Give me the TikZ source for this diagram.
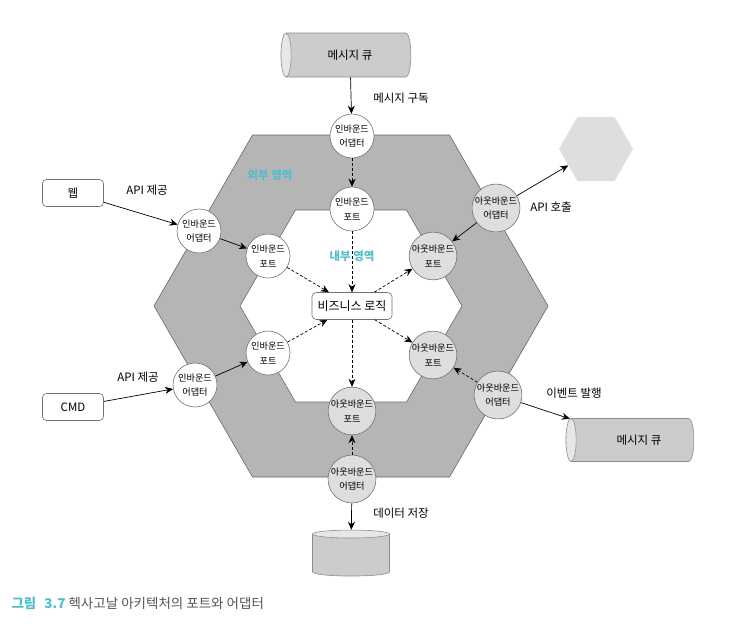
\documentclass[tikz,border=0pt]{standalone}
\usepackage{fontspec}
\setmainfont{Noto Sans CJK KR}
\usetikzlibrary{arrows.meta,shapes.geometric}
\definecolor{hexgray}{RGB}{180,181,180}
\definecolor{portgray}{RGB}{221,222,221}
\definecolor{cylgray}{RGB}{204,204,204}
\definecolor{cylend}{RGB}{231,231,231}
\definecolor{areateal}{RGB}{82,190,204}
\definecolor{captext}{RGB}{85,85,85}

\begin{document}
\begin{tikzpicture}[x=1pt,y=-1pt,every node/.style={font=\fontsize{11.5}{13}\selectfont},
    inport/.style={circle,draw=black!55,line width=0.6pt,fill=white,minimum size=44pt,inner sep=0pt,
                   align=center,font=\fontsize{9.2}{14.5}\selectfont},
    outport/.style={inport,fill=portgray},
    srcbox/.style={draw=black!55,line width=0.6pt,rounded corners=4pt,fill=white,minimum width=61pt,
                   minimum height=27pt},
    queue/.style={cylinder,draw=black!45,line width=0.6pt,cylinder uses custom fill,
                  cylinder body fill=cylgray,cylinder end fill=cylend,aspect=0.6},
    flow/.style={-{Stealth[length=8pt,width=7pt]},line width=0.7pt},
    dflow/.style={flow,dash pattern=on 3pt off 2pt}]
  \useasboundingbox (0,0) rectangle (742,635);

  % hexagons
  \draw[black!60,line width=0.6pt,fill=hexgray] (154,306) -- (252.5,135) -- (449.5,135) -- (548,306)
       -- (449.5,477) -- (252.5,477) -- cycle;
  \draw[black!60,line width=0.6pt,fill=white] (240,306) -- (295.5,210) -- (406.5,210) -- (462,306)
       -- (406.5,402) -- (295.5,402) -- cycle;
  \node[font=\bfseries\fontsize{11.5}{13}\selectfont,text=areateal] at (270,175) {외부 영역};
  \node[font=\bfseries\fontsize{11.5}{13}\selectfont,text=areateal] at (352,256) {내부 영역};

  % core
  \node[srcbox,minimum width=80pt,font=\fontsize{12}{13}\selectfont] (logic) at (352,306) {비즈니스 로직};

  % inbound side
  \node[queue,shape border rotate=180,minimum width=44pt,minimum height=130pt] (queueTop) at (350,55) {메시지 큐};
  \node[inport] (inAdTop)   at (352,136) {인바운드\\어댑터};
  \node[inport] (inPortTop) at (352,209) {인바운드\\포트};
  \node[srcbox] (web) at (73,193) {웹};
  \node[inport] (inAdWeb)   at (199,231) {인바운드\\어댑터};
  \node[inport] (inPortWeb) at (268,256) {인바운드\\포트};
  \node[srcbox] (cmd) at (73,407) {CMD};
  \node[inport] (inAdCmd)   at (195,385) {인바운드\\어댑터};
  \node[inport] (inPortCmd) at (268,353) {인바운드\\포트};

  % outbound side
  \node[outport] (outAdApi)   at (496,208) {아웃바운드\\어댑터};
  \node[outport] (outPortApi) at (433,256) {아웃바운드\\포트};
  \node[regular polygon,regular polygon sides=6,minimum size=74pt,inner sep=0pt,
        fill=portgray] (extApi) at (596,149) {};
  \node[outport] (outAdEvt)   at (498,395) {아웃바운드\\어댑터};
  \node[outport] (outPortEvt) at (433,355) {아웃바운드\\포트};
  \node[queue,shape border rotate=180,minimum width=43pt,minimum height=128pt] (queueEvt) at (634,440) {\hspace*{10pt}메시지 큐};
  \node[outport] (outPortDb) at (352,411) {아웃바운드\\포트};
  \node[outport] (outAdDb)   at (352,479) {아웃바운드\\어댑터};
  \node[queue,shape border rotate=90,minimum width=77pt,minimum height=46pt,aspect=1.2] (db) at (351,556) {};

  % connectors
  \draw[flow] (queueTop) -- (inAdTop);
  \draw[dflow] (inAdTop) -- (inPortTop);
  \draw[dflow] (inPortTop) -- (logic);
  \draw[flow] (web) -- (inAdWeb);
  \draw[flow] (inAdWeb) -- (inPortWeb);
  \draw[dflow] (inPortWeb) -- (logic);
  \draw[flow] (cmd) -- (inAdCmd);
  \draw[flow] (inAdCmd) -- (inPortCmd);
  \draw[dflow] (inPortCmd) -- (logic);
  \draw[dflow] (logic) -- (outPortApi);
  \draw[flow] (outAdApi) -- (outPortApi);
  \draw[flow] (outAdApi) -- (extApi);
  \draw[dflow] (logic) -- (outPortEvt);
  \draw[dflow] (outAdEvt) -- (outPortEvt);
  \draw[flow] (outAdEvt) -- (queueEvt);
  \draw[dflow] (logic) -- (outPortDb);
  \draw[dflow] (outAdDb) -- (outPortDb);
  \draw[flow] (outAdDb) -- (db);

  % labels
  \node (lblSub) at (401,98) {메시지 구독};
  \node (lblWeb) at (147,190) {API 제공};
  \node (lblCmd) at (138,377) {API 제공};
  \node (lblApi) at (551,207) {API 호출};
  \node (lblEvt) at (574,393) {이벤트 발행};
  \node (lblDb)  at (401,513) {데이터 저장};

  % caption
  \node[anchor=west,font=\fontsize{13.5}{15}\selectfont,text=captext] (caption) at (8,603)
       {\textcolor{areateal}{\textbf{그림}\hspace{8pt}\textbf{3.7}} 헥사고날 아키텍처의 포트와 어댑터};
\end{tikzpicture}
\end{document}
